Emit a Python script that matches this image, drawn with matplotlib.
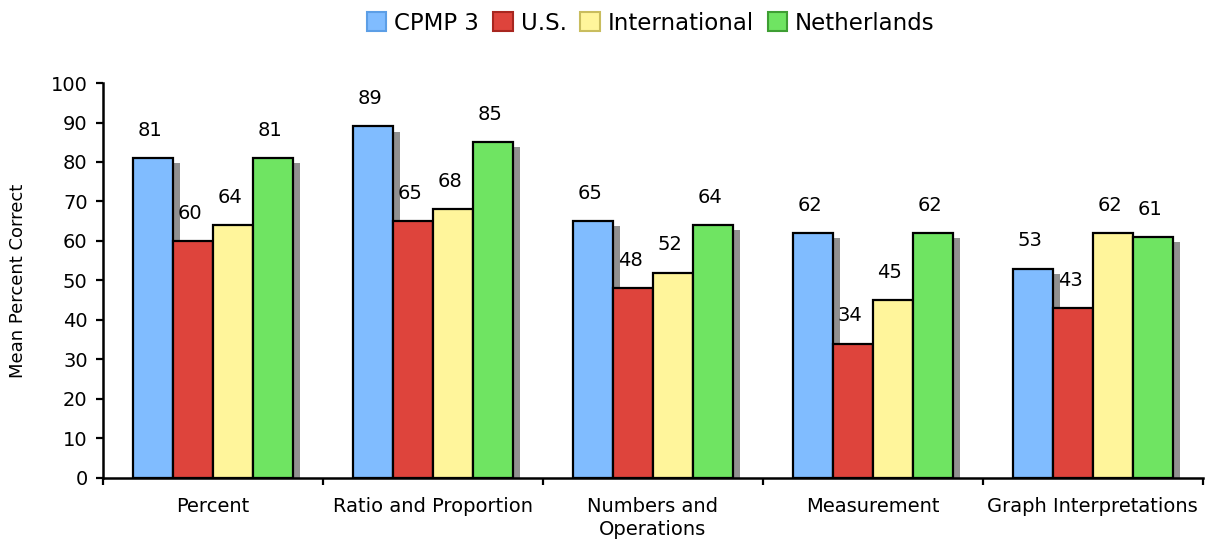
import matplotlib
matplotlib.use("Agg")
import matplotlib.pyplot as plt
import numpy as np
from matplotlib.patches import Patch

categories = ["Percent", "Ratio and Proportion", "Numbers and\nOperations",
              "Measurement", "Graph Interpretations"]
series_names = ["CPMP 3", "U.S.", "International", "Netherlands"]
cpmp3 = [81, 89, 65, 62, 53]
us = [60, 65, 48, 34, 43]
international = [64, 68, 52, 45, 62]
netherlands = [81, 85, 64, 62, 61]
yticks = [0, 10, 20, 30, 40, 50, 60, 70, 80, 90, 100]

series = [cpmp3, us, international, netherlands]
colors = ["#80BCFF", "#DE443C", "#FFF59B", "#6FE462"]
edge_legend = ["#5C9EE6", "#A8261F", "#C9BD5E", "#3E9E33"]

plt.rcParams['font.family'] = ['DejaVu Sans']
fig = plt.figure(figsize=(12.28, 5.48), dpi=100)
ax = fig.add_axes([0.0838, 0.128, 0.8956, 0.7205])

x = np.arange(len(categories))
w = 0.1815
shadow_dx = 0.032
shadow_dy = 1.3

for j, vals in enumerate(series):
    pos = x + (j - 1.5) * w
    vals = np.array(vals, dtype=float)
    ax.bar(pos + shadow_dx, vals - shadow_dy, width=w, color="#909090",
           edgecolor="none", zorder=1, align="center")
    ax.bar(pos, vals, width=w, color=colors[j], edgecolor="black",
           linewidth=1.6, zorder=3, align="center")
    for px, v in zip(pos, vals):
        ax.annotate(f"{int(v)}", xy=(px, v), xytext=(-2, 20),
                    textcoords="offset points", ha="center", va="center",
                    fontsize=14, zorder=4)

ax.set_xlim(-0.5, len(categories) - 0.5)
ax.set_ylim(0, 100)
ax.set_yticks(yticks)
ax.set_yticklabels([str(t) for t in yticks], fontsize=14)
ax.set_xticks(x)
ax.set_xticklabels(categories, fontsize=14, linespacing=1.25)
ax.set_xticks(np.arange(-0.5, len(categories), 1.0), minor=True)
ax.tick_params(axis="x", which="major", length=0, pad=14)
ax.tick_params(axis="x", which="minor", length=5, width=1.6, direction="out")
ax.tick_params(axis="y", which="major", length=5, width=1.6, direction="out", pad=6)

for s in ["top", "right"]:
    ax.spines[s].set_visible(False)
for s in ["left", "bottom"]:
    ax.spines[s].set_linewidth(1.8)

ax.set_ylabel("Mean Percent Correct", fontsize=13, labelpad=17)

handles = [Patch(facecolor=c, edgecolor=e, linewidth=1.5) for c, e in zip(colors, edge_legend)]
fig.legend(handles, series_names, loc="center", bbox_to_anchor=(0.530, 0.958),
           ncol=4, frameon=False, fontsize=16.5, handlelength=0.85, handleheight=0.85,
           handletextpad=0.35, columnspacing=0.6)

fig.savefig("out.png", dpi=100)
